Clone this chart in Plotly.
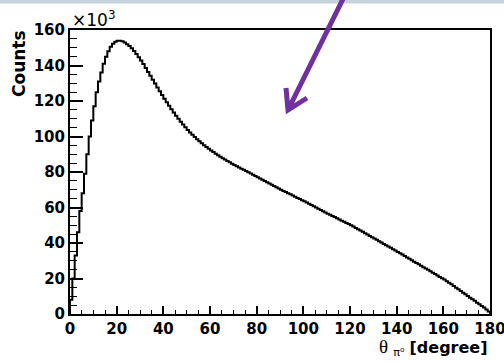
import plotly.graph_objects as go

# Histogram of theta_pi0 in 1-degree bins, counts in units of 10^3
bin_edges_low = list(range(0, 180))
counts_k = [
    8, 20, 33, 46, 58, 68, 79, 90, 100, 109,
    117, 125, 131, 136, 141, 145, 148, 150.5, 152.3, 153.4,
    154, 154, 153.6, 153, 152, 151, 149.7, 148.2, 146.5, 144.7,
    142.8, 140.8, 138.6, 136.4, 134.2, 132, 129.8, 127.6, 125.5, 123.4,
    121.3, 119.3, 117.3, 115.4, 113.5, 111.7, 110, 108.3, 106.7, 105.2,
    103.7, 102.3, 101, 99.7, 98.5, 97.3, 96.2, 95.1, 94.1, 93.1,
    92.1, 91.2, 90.3, 89.4, 88.6, 87.8, 87, 86.2, 85.5, 84.7,
    84.0, 83.3, 82.6, 81.9, 81.2, 80.5, 79.8, 79.1, 78.4, 77.7,
    77.0, 76.3, 75.6, 74.9, 74.2, 73.5, 72.8, 72.1, 71.4, 70.7,
    70.0, 69.3, 68.7, 68.0, 67.4, 66.7, 66.1, 65.4, 64.8, 64.1,
    63.5, 62.8, 62.1, 61.4, 60.7, 60.0, 59.3, 58.6, 57.9, 57.2,
    56.5, 55.9, 55.2, 54.6, 53.9, 53.3, 52.6, 52.0, 51.3, 50.7,
    50.0, 49.3, 48.5, 47.8, 47.0, 46.3, 45.5, 44.8, 44.0, 43.3,
    42.5, 41.8, 41.0, 40.3, 39.5, 38.8, 38.0, 37.3, 36.5, 35.8,
    35.0, 34.2, 33.5, 32.7, 31.9, 31.1, 30.3, 29.5, 28.8, 28.0,
    27.2, 26.4, 25.6, 24.9, 24.1, 23.3, 22.5, 21.7, 20.9, 20.2,
    19.4, 18.5, 17.6, 16.7, 15.8, 14.8, 13.9, 13.0, 12.0, 11.1,
    10.2, 9.2, 8.3, 7.4, 6.4, 5.5, 4.5, 3.6, 2.6, 1.4,
]
x_ticks = [0, 20, 40, 60, 80, 100, 120, 140, 160, 180]
y_ticks = [0, 20, 40, 60, 80, 100, 120, 140, 160]

xs = [0] + bin_edges_low + [180]
ys = [0] + counts_k + [0]

FONT = "DejaVu Sans"

fig = go.Figure()
fig.add_trace(go.Scatter(
    x=xs, y=ys, mode="lines", line=dict(color="black", width=2, shape="hv"),
    hoverinfo="skip", showlegend=False,
))

tickfont = dict(family=FONT, size=15, color="black", weight="bold")
fig.update_layout(
    width=504, height=361,
    margin=dict(l=70, r=14, t=30, b=47, autoexpand=False),
    paper_bgcolor="white", plot_bgcolor="white",
    showlegend=False,
    xaxis=dict(
        range=[0, 180], tickvals=x_ticks, ticks="inside", ticklen=8, tickwidth=1.5,
        tickcolor="black", showgrid=False, zeroline=False, automargin=False,
        showline=True, linecolor="black", linewidth=2, mirror=True,
        tickfont=tickfont, ticklabelstandoff=0, ticklabeloverflow="allow",
        minor=dict(dtick=5, ticks="inside", ticklen=4, tickcolor="black", tickwidth=1.2, showgrid=False),
    ),
    yaxis=dict(
        range=[0, 160], tickvals=y_ticks, ticks="inside", ticklen=13, tickwidth=1.5,
        tickcolor="black", showgrid=False, zeroline=False, automargin=False,
        showline=True, linecolor="black", linewidth=2, mirror=True,
        tickfont=tickfont, ticklabelstandoff=0, ticklabeloverflow="allow",
        minor=dict(dtick=5, ticks="inside", ticklen=7, tickcolor="black", tickwidth=1.2, showgrid=False),
    ),
)

# top gray band
fig.add_shape(type="rect", xref="paper", yref="paper",
              x0=-70/420, x1=434/420, y0=(314-3.5)/284, y1=314/284 + 0.01,
              fillcolor="#c8d2da", line=dict(width=0), layer="above")

# purple arrow
def px(x):
    return (x - 70) / 420
def py(y):
    return (314 - y) / 284

path = (f"M {px(343)},{py(-1)} L {px(288)},{py(110)} "
        f"M {px(286)},{py(88)} L {px(288)},{py(110)} L {px(307)},{py(98)}")
fig.add_shape(type="path", xref="paper", yref="paper", path=path,
              line=dict(color="#7030a0", width=5), layer="above")

fig.add_annotation(xref="paper", yref="paper", x=px(19), y=py(64),
                   xanchor="center", yanchor="middle",
                   text="<b>Counts</b>", textangle=-90, showarrow=False,
                   font=dict(family=FONT, size=17, color="black"))
fig.add_annotation(xref="paper", yref="paper", x=0.0, y=py(19), xanchor="left",
                   yanchor="middle", text="×10<sup>3</sup>", showarrow=False,
                   font=dict(family=FONT, size=17, color="black"))
fig.add_annotation(xref="paper", yref="paper", x=1.0, y=py(347), xanchor="right",
                   yanchor="middle",
                   text="<span style='font-family:Liberation Serif;font-size:19px'>θ</span>"
                        " <sub>π⁰</sub> <b>[degree]</b>",
                   showarrow=False,
                   font=dict(family=FONT, size=16, color="black"))

fig.write_html("out.html")
